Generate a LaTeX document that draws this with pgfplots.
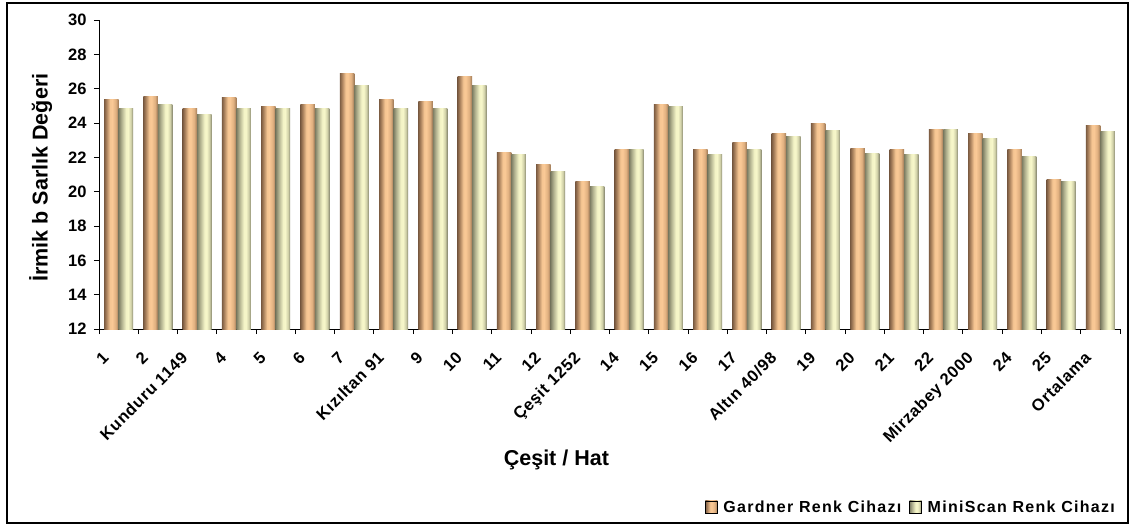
\documentclass[border=0pt]{standalone}
\usepackage{pgfplots}
\usepackage{pgfplotstable}
\pgfplotsset{compat=1.18}
\usepackage{fontspec}
\setmainfont{Liberation Sans}
\newfontfamily\tickfont{Liberation Sans}[LetterSpace=4]
\newfontfamily\legfont{Liberation Sans}[LetterSpace=8]

% bar colours (Excel-like vertical gradient)
\definecolor{gA}{HTML}{7C5C42}
\definecolor{gB}{HTML}{A8805C}
\definecolor{gC}{HTML}{F5C592}
\definecolor{gD}{HTML}{FAC996}
\definecolor{gE}{HTML}{E0B080}
\definecolor{gF}{HTML}{9C7856}
\definecolor{mA}{HTML}{7D7D63}
\definecolor{mB}{HTML}{B0B08E}
\definecolor{mC}{HTML}{F3F3C6}
\definecolor{mD}{HTML}{F7F7CA}
\definecolor{mE}{HTML}{D0D0A8}
\definecolor{mF}{HTML}{888870}
\pgfdeclarehorizontalshading{gardner}{100bp}{color(0bp)=(gA); color(25bp)=(gA); color(32.5bp)=(gB); color(45bp)=(gC); color(52.5bp)=(gD); color(65bp)=(gE); color(75bp)=(gF); color(100bp)=(gF)}
\pgfdeclarehorizontalshading{miniscan}{100bp}{color(0bp)=(mA); color(25bp)=(mA); color(35bp)=(mB); color(50bp)=(mC); color(57.5bp)=(mD); color(67.5bp)=(mE); color(75bp)=(mF); color(100bp)=(mF)}

\pgfplotstableread{
x g m
0 25.34 24.87
1 25.57 25.10
2 24.87 24.52
3 25.46 24.82
4 24.99 24.82
5 25.10 24.82
6 26.91 26.21
7 25.34 24.87
8 25.28 24.82
9 26.68 26.21
10 22.29 22.14
11 21.61 21.15
12 20.62 20.33
13 22.43 22.43
14 25.10 24.99
15 22.43 22.14
16 22.89 22.43
17 23.36 23.24
18 24.00 23.54
19 22.49 22.20
20 22.43 22.14
21 23.65 23.65
22 23.36 23.07
23 22.43 22.02
24 20.68 20.62
25 23.83 23.48
}\data

\begin{document}
\begin{tikzpicture}
\begin{axis}[
    name=ax,
    scale only axis,
    width=1021bp, height=309bp,
    xmin=-0.5, xmax=25.5,
    ymin=12, ymax=30,
    ytick={12,14,...,30},
    xtick={0,...,25},
    xticklabels={1,2,Kunduru 1149,4,5,6,7,Kızıltan 91,9,10,11,12,Çeşit 1252,14,15,16,17,Altın 40/98,19,20,21,22,Mirzabey 2000,24,25,Ortalama},
    minor xtick={-0.5,0.5,...,25.5},
    axis x line*=bottom, axis y line*=left,
    axis line style={-, black, line width=0.9bp},
    tick align=outside,
    major tick length=5bp, minor tick length=5bp,
    major x tick style={draw=none},
    every tick/.style={black, line width=0.9bp},
    /pgf/number format/assume math mode=true,
    xticklabel style={font=\tickfont\bfseries\fontsize{16.5bp}{19bp}\selectfont,
        xshift=-17bp, yshift=-12bp, rotate=45, anchor=north east},
    yticklabel style={font=\bfseries\fontsize{16.5bp}{19bp}\selectfont, xshift=-4bp},
    xlabel={Çeşit / Hat},
    ylabel={İrmik b Sarlık Değeri},
    label style={font=\bfseries\fontsize{21.5bp}{25bp}\selectfont},
    xlabel style={at={(axis description cs:0.448,-0.424)}, anchor=center},
    ylabel style={at={(axis description cs:-0.057,0.49)}, anchor=center},
    legend image code/.code={\path[#1] (0bp,-6bp) rectangle (12bp,6bp);},
    legend style={at={(1.0,-0.576)}, anchor=east, draw=none, fill=none,
        legend columns=2, font=\legfont\bfseries\fontsize{16bp}{19bp}\selectfont,
        /tikz/every odd column/.append style={column sep=4bp},
        /tikz/every even column/.append style={column sep=6bp}},
]
% one plot per bar, so that every bar gets its own gradient
\pgfplotsinvokeforeach{0,...,25}{
  \addplot[ybar, bar width=14.5bp, bar shift=-7.25bp, draw=none, shade, shading=gardner,
    forget plot, restrict x to domain=#1:#1]
    table[x=x, y=g] {\data};
  \addplot[ybar, bar width=14.5bp, bar shift=7.25bp, draw=none, shade, shading=miniscan,
    forget plot, restrict x to domain=#1:#1]
    table[x=x, y=m] {\data};
}
\addlegendimage{shade, shading=gardner}
\addlegendentry{Gardner Renk Cihazı}
\addlegendimage{shade, shading=miniscan}
\addlegendentry{MiniScan Renk Cihazı}
\end{axis}
\pgfresetboundingbox
\path ([shift={(-99bp,-198bp)}]ax.south west) rectangle ([shift={(11bp,20bp)}]ax.north east);
\draw[line width=1.2bp] ([shift={(-92bp,-194bp)}]ax.south west) rectangle ([shift={(8bp,17bp)}]ax.north east);
\end{tikzpicture}
\end{document}
